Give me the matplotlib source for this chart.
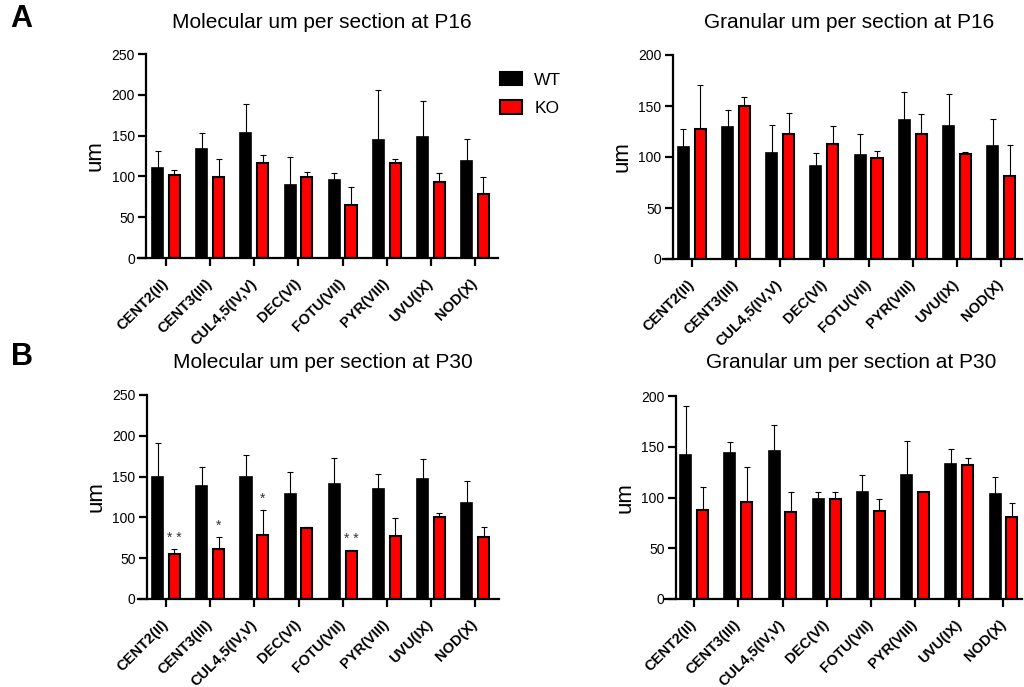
import numpy as np
import matplotlib
matplotlib.use("Agg")
import matplotlib.pyplot as plt
from matplotlib.patches import Patch
from matplotlib.transforms import ScaledTranslation

plt.rcParams["font.family"] = ["Liberation Sans", "DejaVu Sans"]

# -------------------------
# Data
# -------------------------
regions = ["CENT2(II)", "CENT3(III)", "CUL4,5(IV,V)", "DEC(VI)",
           "FOTU(VII)", "PYR(VIII)", "UVU(IX)", "NOD(X)"]

mol_p16_wt = [110, 133, 153, 89, 96, 145, 148, 119]
mol_p16_wt_sd = [21, 20, 36, 35, 8, 61, 44, 27]
mol_p16_ko = [102, 99, 117, 99, 65, 116, 93, 78]
mol_p16_ko_sd = [6, 22, 9, 7, 22, 5, 11, 21]

gran_p16_wt = [110, 129, 104, 91, 102, 136, 130, 111]
gran_p16_wt_sd = [17, 17, 27, 13, 21, 28, 32, 26]
gran_p16_ko = [127, 150, 123, 113, 99, 123, 103, 81]
gran_p16_ko_sd = [44, 9, 20, 17, 7, 19, 2, 31]

mol_p30_wt = [150, 138, 149, 129, 141, 135, 147, 118]
mol_p30_wt_sd = [41, 24, 27, 27, 32, 18, 25, 26]
mol_p30_ko = [55, 61, 78, 87, 59, 77, 100, 76]
mol_p30_ko_sd = [6, 15, 31, 1, 1, 22, 5, 12]
mol_p30_stars = ["* *", "*", "*", "", "* *", "", "", ""]

gran_p30_wt = [142, 144, 146, 99, 105, 122, 133, 103]
gran_p30_wt_sd = [48, 11, 25, 6, 17, 34, 15, 17]
gran_p30_ko = [88, 96, 86, 99, 87, 105, 132, 81]
gran_p30_ko_sd = [22, 34, 19, 6, 12, 0, 7, 14]

W, H = 1024, 687
fig = plt.figure(figsize=(W / 100, H / 100), dpi=100)


def px_axes(x0, x1, ytop, ybot):
    return fig.add_axes([x0 / W, 1 - ybot / H, (x1 - x0) / W, (ybot - ytop) / H])


def draw_panel(ax, wt, wt_sd, ko, ko_sd, ymax, xlim, spine_x, stars=None):
    x = np.arange(len(regions))
    off, bw = 0.19, 0.25
    ax.errorbar(x - off, wt, yerr=[np.zeros(len(wt)), wt_sd], fmt="none",
                ecolor="black", elinewidth=0.8, capsize=2.5, capthick=0.8, zorder=1)
    ax.errorbar(x + off, ko, yerr=[np.zeros(len(ko)), ko_sd], fmt="none",
                ecolor="black", elinewidth=0.8, capsize=2.5, capthick=0.8, zorder=1)
    ax.bar(x - off, wt, width=bw, color="black", edgecolor="black", linewidth=1.2, zorder=2)
    ax.bar(x + off, ko, width=bw, color="#ff0000", edgecolor="black", linewidth=1.5, zorder=2)

    if stars:
        for xi, m, s, st in zip(x, ko, ko_sd, stars):
            if st:
                ax.annotate(st, (xi + off, m + s), xytext=(0, 3), textcoords="offset points",
                            ha="center", va="bottom", fontsize=10, color="#333333")

    ax.set_xlim(*xlim)
    ax.set_ylim(0, ymax)
    yt = np.arange(0, ymax + 1, 50)
    ax.set_yticks(yt)
    ax.set_yticklabels([str(v) for v in yt], fontsize=11.5, fontweight="bold")
    ax.set_xticks(x)
    ax.set_xticklabels(regions, rotation=45, ha="right", va="center",
                       rotation_mode="anchor", fontsize=10.5, fontweight="bold")
    shift = ScaledTranslation(4 / 100, 0, fig.dpi_scale_trans)
    for lab in ax.get_xticklabels():
        lab.set_transform(lab.get_transform() + shift)
    ax.spines["top"].set_visible(False)
    ax.spines["right"].set_visible(False)
    ax.spines["left"].set_position(("data", spine_x))
    for side in ["left", "bottom"]:
        ax.spines[side].set_linewidth(1.6)
    ax.tick_params(axis="both", length=6, width=1.6, pad=2)
    ax.tick_params(axis="x", pad=11)
    ax.set_ylabel("um", fontsize=16, labelpad=4)


ax1 = px_axes(138, 498, 54, 258)
draw_panel(ax1, mol_p16_wt, mol_p16_wt_sd, mol_p16_ko, mol_p16_ko_sd, 250,
           (-0.636, 7.52), -0.455)
ax2 = px_axes(663, 1022, 55, 259)
draw_panel(ax2, gran_p16_wt, gran_p16_wt_sd, gran_p16_ko, gran_p16_ko_sd, 200,
           (-0.65, 7.47), -0.43)
ax3 = px_axes(138, 499, 395, 599)
draw_panel(ax3, mol_p30_wt, mol_p30_wt_sd, mol_p30_ko, mol_p30_ko_sd, 250,
           (-0.636, 7.54), -0.44, stars=mol_p30_stars)
ax4 = px_axes(665, 1022, 396, 599)
draw_panel(ax4, gran_p30_wt, gran_p30_wt_sd, gran_p30_ko, gran_p30_ko_sd, 200,
           (-0.66, 7.42), -0.42)

titles = [
    ("Molecular um per section at P16", 322, 22),
    ("Granular um per section at P16", 849, 23),
    ("Molecular um per section at P30", 323, 363),
    ("Granular um per section at P30", 851, 363),
]
for txt, tx, ty in titles:
    fig.text(tx / W, 1 - ty / H, txt, ha="center", va="center", fontsize=15)

fig.text(21 / W, 1 - 19 / H, "A", ha="center", va="center", fontsize=22, fontweight="bold")
fig.text(22 / W, 1 - 357 / H, "B", ha="center", va="center", fontsize=22, fontweight="bold")

handles = [Patch(facecolor="black", edgecolor="black", linewidth=1.5),
           Patch(facecolor="#ff0000", edgecolor="black", linewidth=1.5)]
fig.legend(handles, ["WT", "KO"], loc="upper left", bbox_to_anchor=(484 / W, 1 - 56 / H),
           frameon=False, fontsize=12.5, handlelength=1.3, handleheight=0.85,
           labelspacing=0.7, handletextpad=0.7)

fig.savefig("out.png", dpi=100)
